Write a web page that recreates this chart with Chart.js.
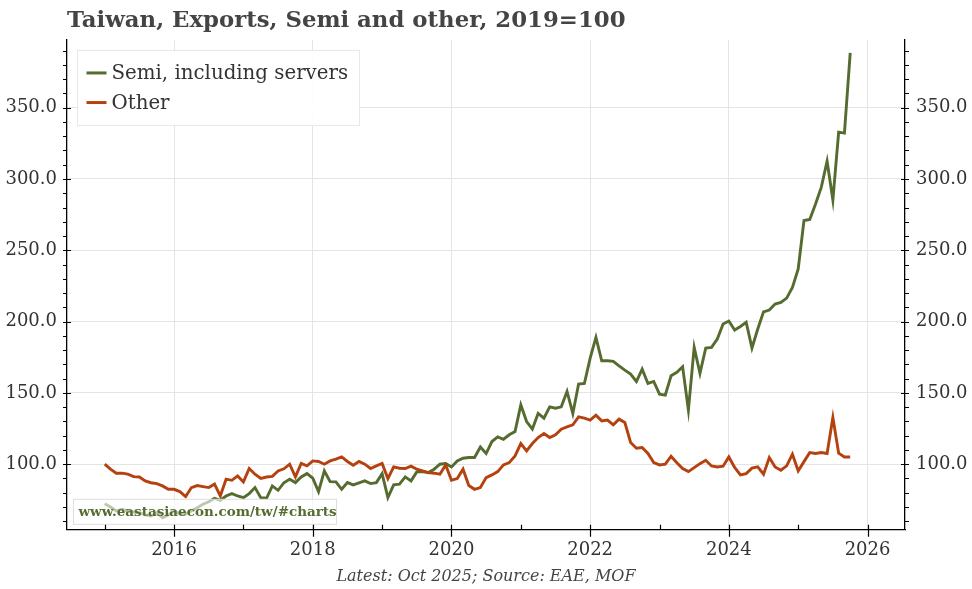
<!DOCTYPE html>
<html>
<head>
<meta charset="utf-8">
<title>Taiwan, Exports, Semi and other</title>
<script src="https://cdn.jsdelivr.net/npm/chart.js@4.4.1/dist/chart.umd.min.js"></script>
<style>
  html, body { margin: 0; padding: 0; background: #fff; }
  #wrap { width: 972px; height: 589px; }
</style>
</head>
<body>
<div id="wrap"><canvas id="exportsChart"></canvas></div>
<script>
// Monthly index, 2019=100, Jan 2015 .. Oct 2025
const startYear = 2015;
const seriesNames = ['Semi, including servers', 'Other'];
const semi = [
  72.3, 70.0, 67.2, 68.4, 67.2, 66.5, 66.0, 64.4, 63.7, 66.0, 62.5, 64.4,
  67.2, 65.0, 65.0, 67.2, 69.5, 71.9, 73.7, 76.1, 74.7, 77.7, 79.4, 77.7,
  76.5, 79.4, 83.6, 76.5, 76.1, 84.8, 81.7, 87.0, 89.5, 87.1, 91.1, 93.4,
  90.2, 80.8, 95.3, 87.8, 87.6, 82.4, 87.1, 85.5, 86.9, 88.3, 86.4, 87.1,
  93.4, 76.6, 85.5, 86.0, 91.1, 88.3, 94.6, 94.9, 94.1, 96.5, 100.0, 100.5,
  98.1, 102.3, 104.2, 104.7, 104.7, 112.1, 107.5, 115.9, 119.2, 117.5, 120.6, 122.9,
  141.6, 129.9, 124.6, 135.6, 132.3, 140.2, 139.3, 140.2, 151.0, 135.6, 156.2, 156.6,
  174.4, 188.9, 172.5, 172.5, 172.1, 169.0, 166.0, 163.2, 158.0, 166.7, 156.6, 158.0,
  149.1, 148.4, 162.0, 164.4, 168.3, 137.9, 181.9, 163.7, 181.5, 181.9, 187.8, 198.3,
  200.4, 194.1, 196.6, 199.5, 181.5, 194.8, 206.8, 208.1, 212.3, 213.5, 216.5, 224.0,
  236.9, 270.9, 271.6, 282.5, 294.3, 312.5, 285.3, 332.9, 332.2, 388.4
];
const other = [
  100.0, 96.5, 93.7, 93.7, 93.0, 91.3, 91.0, 88.3, 87.0, 86.4, 84.8, 82.4,
  82.4, 80.8, 77.3, 83.6, 85.0, 84.3, 83.6, 86.0, 77.7, 89.5, 88.7, 91.8,
  87.6, 97.0, 93.0, 90.0, 91.0, 91.5, 95.3, 96.8, 100.0, 91.1, 100.5, 98.8,
  102.3, 101.9, 100.0, 102.3, 103.5, 105.1, 101.9, 99.3, 101.9, 100.0, 97.0, 98.8,
  100.5, 89.9, 98.1, 97.2, 97.0, 98.6, 96.5, 95.3, 94.1, 93.7, 93.0, 99.5,
  88.8, 89.9, 96.5, 85.0, 82.4, 83.6, 90.6, 92.5, 94.8, 99.5, 101.1, 105.8,
  114.5, 109.3, 114.5, 118.7, 121.5, 118.7, 120.6, 124.6, 126.2, 127.6, 133.2, 132.3,
  130.9, 134.4, 130.4, 130.9, 127.6, 131.6, 129.2, 115.2, 111.2, 111.7, 107.5, 101.1,
  99.5, 100.0, 105.6, 101.0, 97.0, 94.8, 97.6, 100.4, 102.8, 98.8, 98.1, 98.6,
  105.1, 97.7, 92.5, 93.4, 97.2, 98.1, 93.0, 104.7, 98.1, 95.8, 98.8, 107.0,
  95.3, 101.8, 108.2, 107.5, 108.2, 107.5, 132.7, 107.7, 105.1, 105.1
];
const yearTicks = [2016, 2018, 2020, 2022, 2024, 2026];
const valueTicks = [100, 150, 200, 250, 300, 350];
const minorYears = [2015, 2017, 2019, 2021, 2023, 2025];

// month i -> decimal year
const monthX = semi.map((_, i) => startYear + i / 12);

const SERIF = '"DejaVu Serif", "Liberation Serif", serif';
const GREEN = '#556b2f';
const RUST = '#b5410f';

// Tick marks like the original: majors cross the axis, minors are short
const axisTicks = {
  id: 'axisTicks',
  afterDraw(chart) {
    const { ctx, chartArea: a, scales: { x, y } } = chart;
    ctx.save();
    ctx.strokeStyle = '#000';
    ctx.lineWidth = 1.2;
    ctx.beginPath();
    yearTicks.concat(minorYears).forEach(yr => {
      const px = Math.round(x.getPixelForValue(yr)) + 0.5;
      const major = yearTicks.includes(yr);
      ctx.moveTo(px, a.bottom - 5);
      ctx.lineTo(px, a.bottom + (major ? 7 : 0));
    });
    for (let v = 60; v <= 390; v += 10) {
      const py = Math.round(y.getPixelForValue(v)) + 0.5;
      const major = valueTicks.includes(v);
      ctx.moveTo(a.left - 4, py);
      ctx.lineTo(a.left + (major ? 4 : 0), py);
      ctx.moveTo(a.right + 4, py);
      ctx.lineTo(a.right - (major ? 4 : 0), py);
    }
    ctx.stroke();
    ctx.restore();
  }
};

// Boxed legend inside the plot, top left
const boxLegend = {
  id: 'boxLegend',
  afterDatasetsDraw(chart) {
    const { ctx, chartArea: a } = chart;
    const x0 = a.left + 10.5, y0 = a.top + 10.5, w = 282, h = 75;
    ctx.save();
    ctx.fillStyle = 'rgba(255,255,255,0.92)';
    ctx.strokeStyle = '#e8e8e8';
    ctx.lineWidth = 1;
    ctx.fillRect(x0, y0, w, h);
    ctx.strokeRect(x0, y0, w, h);
    ctx.font = '19.8px ' + SERIF;
    ctx.textBaseline = 'middle';
    chart.data.datasets.forEach((ds, i) => {
      const ly = y0 + 22.5 + i * 29.6;
      ctx.strokeStyle = ds.borderColor;
      ctx.lineWidth = 3;
      ctx.beginPath();
      ctx.moveTo(x0 + 9, ly);
      ctx.lineTo(x0 + 29, ly);
      ctx.stroke();
      ctx.fillStyle = '#333';
      ctx.fillText(ds.label, x0 + 34, ly + 1);
    });
    ctx.restore();
  }
};

// Site watermark, bottom left
const watermark = {
  id: 'watermark',
  afterDatasetsDraw(chart) {
    const { ctx, chartArea: a } = chart;
    const x0 = a.left + 6.5, y0 = a.bottom - 30.5, w = 263, h = 25;
    ctx.save();
    ctx.fillStyle = 'rgba(255,255,255,0.62)';
    ctx.strokeStyle = '#dedede';
    ctx.lineWidth = 1;
    ctx.fillRect(x0, y0, w, h);
    ctx.strokeRect(x0, y0, w, h);
    ctx.font = 'bold 13.5px ' + SERIF;
    ctx.fillStyle = '#566b30';
    ctx.textBaseline = 'middle';
    ctx.fillText('www.eastasiaecon.com/tw/#charts', x0 + 5, y0 + h / 2 + 1);
    ctx.restore();
  }
};

const tickFont = { family: SERIF, size: 18 };

new Chart(document.getElementById('exportsChart'), {
  type: 'line',
  data: {
    datasets: [
      {
        label: seriesNames[0],
        data: semi.map((v, i) => ({ x: monthX[i], y: v })),
        borderColor: GREEN,
        borderWidth: 2.9,
        pointRadius: 0,
        order: 1
      },
      {
        label: seriesNames[1],
        data: other.map((v, i) => ({ x: monthX[i], y: v })),
        borderColor: RUST,
        borderWidth: 2.9,
        pointRadius: 0,
        order: 0
      }
    ]
  },
  options: {
    responsive: true,
    maintainAspectRatio: false,
    animation: false,
    events: [],
    layout: { padding: 0 },
    scales: {
      x: {
        type: 'linear',
        min: 2014.456,
        max: 2026.54,
        afterBuildTicks: s => { s.ticks = yearTicks.map(v => ({ value: v })); },
        afterFit: s => { s.height = 35.6; },
        ticks: { callback: v => String(v), padding: 10, color: '#333', font: tickFont, maxRotation: 0 },
        grid: { color: '#e4e4e4', drawTicks: false },
        border: { color: '#000', width: 1.3 }
      },
      y: {
        position: 'left',
        min: 54,
        max: 397.5,
        afterBuildTicks: s => { s.ticks = valueTicks.map(v => ({ value: v })); },
        afterFit: s => { s.width = 67; },
        ticks: { callback: v => v.toFixed(1), padding: 10, color: '#333', font: tickFont },
        grid: { color: '#e4e4e4', drawTicks: false },
        border: { color: '#000', width: 1.3 }
      },
      y2: {
        position: 'right',
        min: 54,
        max: 397.5,
        afterBuildTicks: s => { s.ticks = valueTicks.map(v => ({ value: v })); },
        afterFit: s => { s.width = 67; },
        ticks: { callback: v => v.toFixed(1), padding: 11, color: '#333', font: tickFont },
        grid: { drawOnChartArea: false, drawTicks: false },
        border: { color: '#000', width: 1.3 }
      }
    },
    plugins: {
      legend: { display: false },
      tooltip: { enabled: false },
      title: {
        display: true,
        text: 'Taiwan, Exports, Semi and other, 2019=100',
        fullSize: false,
        align: 'start',
        color: '#444',
        font: { family: SERIF, size: 22.8, weight: 'bold' },
        padding: { top: 7.5, bottom: 5.1 }
      },
      subtitle: {
        display: true,
        position: 'bottom',
        text: 'Latest: Oct 2025; Source: EAE, MOF',
        color: '#444',
        font: { family: SERIF, size: 16, style: 'italic' },
        padding: { top: 2, bottom: 2.4 }
      }
    }
  },
  plugins: [axisTicks, boxLegend, watermark]
});
</script>
</body>
</html>
